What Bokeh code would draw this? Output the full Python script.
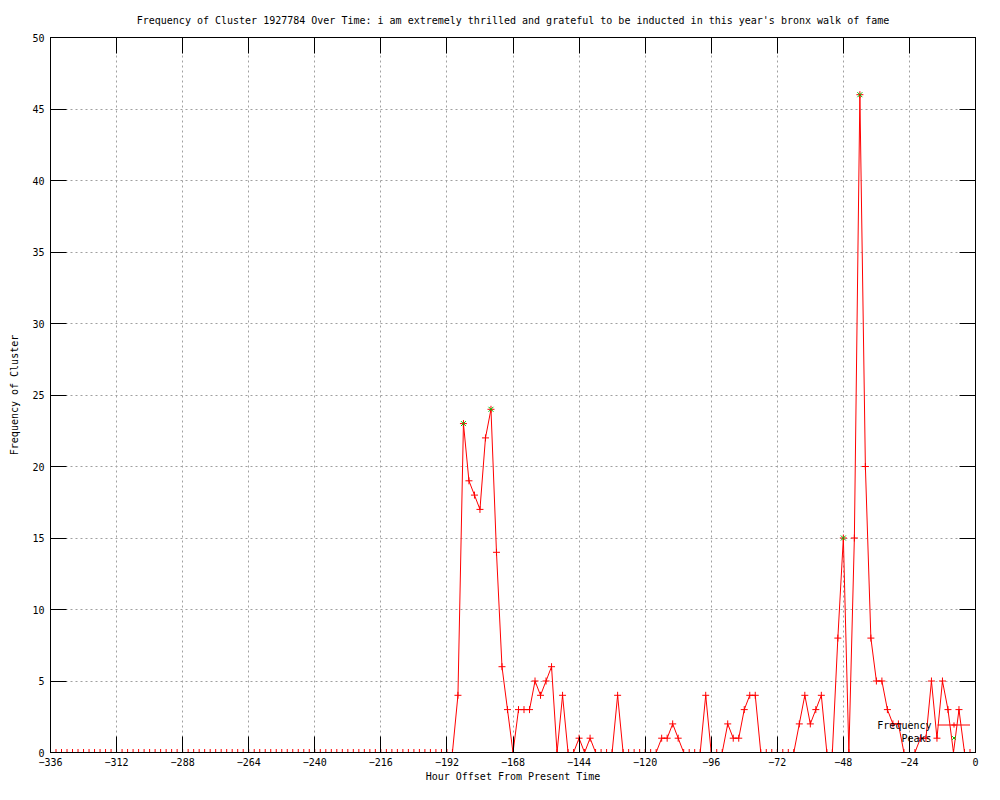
from bokeh.plotting import figure
from bokeh.models import Range1d, FixedTicker, Legend, LegendItem, LinearAxis, Label
from bokeh.embed import file_html
from bokeh.resources import INLINE

FONT = "DejaVu Sans Mono"

# x positions: every 2 hours from -336 to 0
hours = list(range(-336, 1, 2))

# frequency values (-336 ... 0, step 2)
freq_before = [0, 0, 0, 0, 0, 0, 0, 0, 0, 0,
               0, 0, 0, 0, 0, 0, 0, 0, 0, 0,
               0, 0, 0, 0, 0, 0, 0, 0, 0, 0,
               0, 0, 0, 0, 0, 0, 0, 0, 0, 0,
               0, 0, 0, 0, 0, 0, 0, 0, 0, 0,
               0, 0, 0, 0, 0, 0, 0, 0, 0, 0,
               0, 0, 0, 0, 0, 0, 0, 0, 0, 0,
               0, 0, 0, 0]                      # -336 .. -190
freq_after = [4, 23, 19, 18, 17, 22, 24, 14, 6, 3,     # -188 .. -170
              0, 3, 3, 3, 5, 4, 5, 6, 0, 4,            # -168 .. -150
              0, 0, 1, 0, 1, 0, 0, 0, 0, 4,            # -148 .. -130
              0, 0, 0, 0, 0, 0, 0, 1, 1, 2,            # -128 .. -110
              1, 0, 0, 0, 0, 4, 0, 0, 0, 2,            # -108 .. -90
              1, 1, 3, 4, 4, 0, 0, 0, 0, 0,            # -88 .. -70
              0, 0, 2, 4, 2, 3, 4, 0, 0, 8,            # -68 .. -50
              15, 0, 15, 46, 20, 8, 5, 5, 3, 2,        # -48 .. -30
              2, 0, 0, 0, 1, 1, 5, 1, 5, 3,            # -28 .. -10
              0, 3, 0, 0, 0]                           # -8 .. 0
freq = freq_before + freq_after

peak_hours = [-186, -176, -48, -42]
peak_values = [23, 24, 15, 46]

x_ticks = list(range(-336, 1, 24))
y_ticks = list(range(0, 51, 5))

title_text = ("Frequency of Cluster 1927784 Over Time: i am extremely thrilled and "
              "grateful to be inducted in this year's bronx walk of fame")

p = figure(width=984, height=784,
           x_range=Range1d(-336, 0), y_range=Range1d(0, 50),
           output_backend="svg", toolbar_location=None,
           min_border_left=50, min_border_right=9,
           min_border_top=37, min_border_bottom=30,
           background_fill_color="white", border_fill_color="white")

p.outline_line_color = "black"
p.outline_line_width = 1

p.title.text = title_text
p.title.align = "center"
p.title.text_font = FONT
p.title.text_font_size = "10px"
p.title.text_font_style = "normal"
p.title.text_color = "black"
p.title.standoff = 23

for ax, ticks in ((p.xaxis[0], x_ticks), (p.yaxis[0], y_ticks)):
    ax.ticker = FixedTicker(ticks=ticks)
    ax.major_tick_in = 16
    ax.major_tick_out = 0
    ax.minor_tick_line_color = None
    ax.major_tick_line_color = "black"
    ax.axis_line_color = "black"
    ax.major_label_text_font = FONT
    ax.major_label_text_font_size = "10px"
    ax.major_label_text_color = "black"
    ax.axis_label_text_font = FONT
    ax.axis_label_text_font_size = "10px"
    ax.axis_label_text_font_style = "normal"
    ax.axis_label_text_color = "black"

p.xaxis.axis_label = "Hour Offset From Present Time"
p.xaxis.major_label_standoff = 5
p.xaxis.axis_label_standoff = 2
p.yaxis.axis_label = "Frequency of Cluster"
p.yaxis.major_label_standoff = 6
p.yaxis.axis_label_standoff = 9

p.xgrid.ticker = FixedTicker(ticks=x_ticks)
p.ygrid.ticker = FixedTicker(ticks=y_ticks)
for g in (p.xgrid[0], p.ygrid[0]):
    g.grid_line_color = "#a0a0a0"
    g.grid_line_dash = "2 3"
    g.grid_line_width = 1

# mirrored tick marks on the top and right edges (unlabelled axes)
top_ax = LinearAxis(ticker=FixedTicker(ticks=x_ticks), major_tick_in=16, major_tick_out=0,
                    minor_tick_line_color=None, major_label_text_color=None,
                    major_label_text_font_size="1px", major_label_standoff=0,
                    axis_line_color="black")
right_ax = LinearAxis(ticker=FixedTicker(ticks=y_ticks), major_tick_in=16, major_tick_out=0,
                      minor_tick_line_color=None, major_label_text_color=None,
                      major_label_text_font_size="1px", major_label_standoff=0,
                      axis_line_color="black")
p.add_layout(top_ax, "above")
p.add_layout(right_ax, "right")

line_r = p.line(hours, freq, line_color="#ff0000", line_width=1)
pts_r = p.scatter(hours, freq, marker="cross", size=7, line_color="#ff0000", line_width=1)
peak_r = p.scatter(peak_hours, peak_values, marker="x", size=7, line_color="#00c000", line_width=1)

# legend samples (labels drawn separately, to the left of the samples, as in gnuplot)
legend = Legend(items=[LegendItem(label="Frequency", renderers=[line_r, pts_r]),
                       LegendItem(label="Peaks", renderers=[peak_r])],
                location=(887, 8), glyph_width=33, glyph_height=13, label_height=13,
                label_width=0, padding=0, margin=0, spacing=0, label_standoff=0,
                border_line_color=None, background_fill_alpha=0,
                label_text_color=None, label_text_font_size="1px")
p.add_layout(legend)

p.add_layout(Label(x=881, y=27, x_units="screen", y_units="screen", text="Frequency",
                   text_align="right", text_baseline="middle",
                   text_font=FONT, text_font_size="10px", text_color="black"))
p.add_layout(Label(x=881, y=14, x_units="screen", y_units="screen", text="Peaks",
                   text_align="right", text_baseline="middle",
                   text_font=FONT, text_font_size="10px", text_color="black"))

open("out.html", "w").write(file_html(p, INLINE))
